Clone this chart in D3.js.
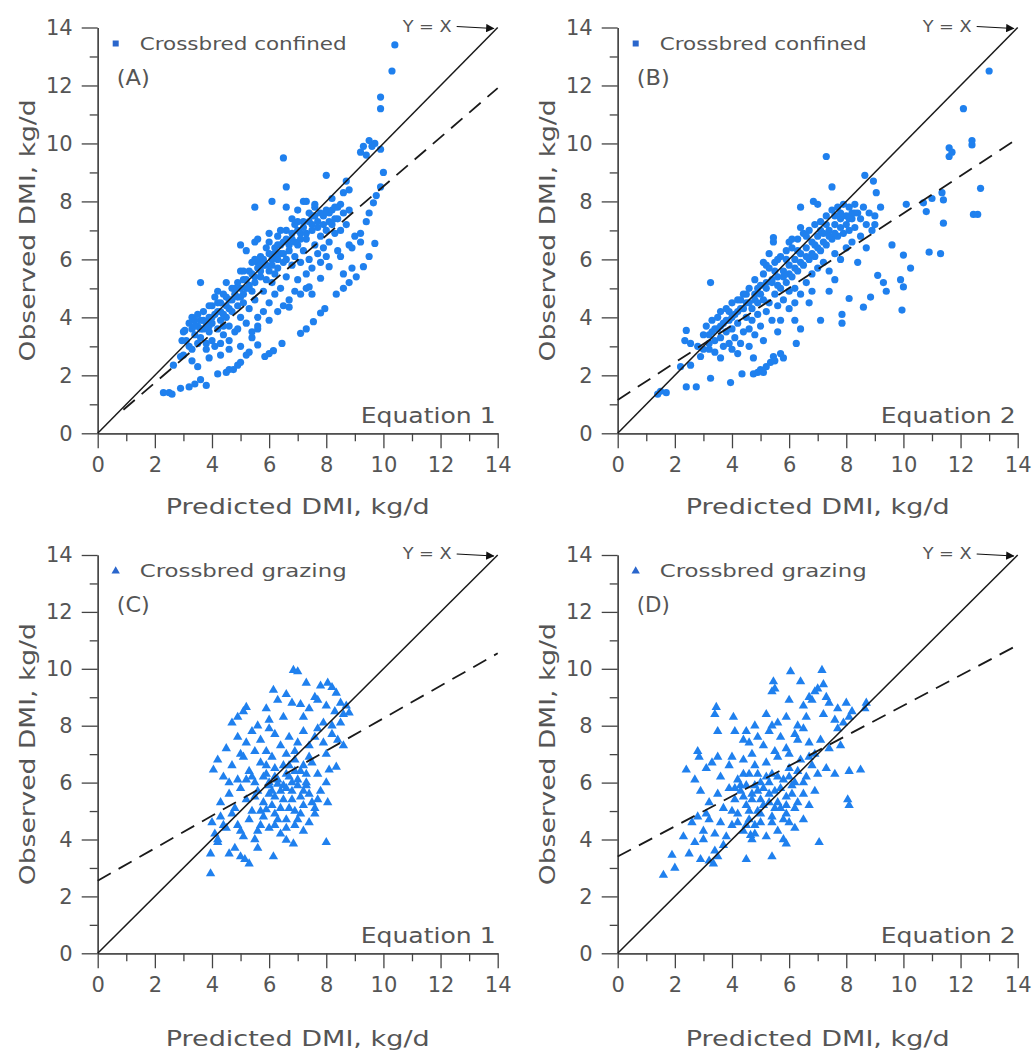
<!DOCTYPE html>
<html>
<head>
<meta charset="utf-8">
<title>Observed vs predicted DMI</title>
<script src="https://d3js.org/d3.v7.min.js"></script>
<style>
  body { margin: 0; background: #fff; }
  svg { font-family: "DejaVu Sans", "Open Sans", sans-serif; }
  .axis path, .axis line { stroke: #444; stroke-width: 1.3; }
  .axis text { fill: #555; font-size: 21px; font-family: "DejaVu Sans", sans-serif; }
  .title { fill: #555; font-size: 21px; }
  .note { fill: #555; }
</style>
</head>
<body>
<div id="chart"></div>
<script>
// ---- data ----
var majorTicks = [0, 2, 4, 6, 8, 10, 12, 14];
var minorTicks = [1, 3, 5, 7, 9, 11, 13];
var panelLetters = ["(A)", "(B)", "(C)", "(D)"];
var equationNames = ["Equation 1", "Equation 2", "Equation 1", "Equation 2"];
var groupNames = ["Crossbred confined", "Crossbred confined", "Crossbred grazing", "Crossbred grazing"];
var fitIntercepts = [0.05, 1.15, 2.55, 3.4];
var fitSlopes = [0.847, 0.644, 0.571, 0.531];
var fitStarts = [0.9, 0, 0, 0];

var pointsA = [
  [10.4,13.4],[10.3,12.5],[9.9,11.6],[9.9,11.2],[9.2,9.7],[9.3,9.9],[9.5,10.1],[9.6,9.9],[9.7,10.0],[9.9,9.8],[9.4,9.6],[10.0,9.0],[9.9,8.5],
  [6.5,9.5],[6.6,8.5],[8.0,8.9],[8.7,8.7],[8.6,8.3],[8.8,8.4],[5.5,7.8],[6.1,8.0],[6.6,7.8],[3.6,5.2],[5.0,6.5],[7.3,8.0],[7.6,7.9],
  [2.3,1.4],[2.5,1.4],[2.6,1.35],[2.9,1.55],[3.2,1.6],[3.4,1.7],[3.6,1.85],[3.8,1.65],[4.2,2.05],[4.5,2.1],[4.6,2.2],[4.75,2.2],[4.9,2.35],
  [5.0,2.45],[5.2,2.7],[5.3,2.8],[5.6,3.05],[5.85,2.65],[6.0,2.75],[6.15,2.85],[6.45,3.1],
  [2.65,2.35],[2.9,2.65],[2.95,3.2],[3.05,3.55],[3.3,2.5],[3.5,2.3],[3.9,2.6],[4.3,2.7],[4.6,2.9],[5.0,3.0],[5.4,3.3],[5.6,3.6],[6.0,3.9],
  [7.1,3.45],[7.3,3.6],[7.55,3.85],[7.8,4.15],[7.95,4.3],[8.35,4.8],[8.6,5.0],[8.8,5.2],[9.05,5.4],[9.3,5.75],[9.5,6.1],[9.7,6.55],
  [6.7,4.35],[7.1,4.8],[7.4,5.05],[7.8,5.35],[8.1,5.75],[8.5,6.1],[8.8,6.5],[9.2,6.9],[9.4,7.3],[9.5,7.6],[9.65,7.95],[9.75,8.2],
  [3.0,3.5],[3.1,3.2],[3.2,3.8],[3.3,3.6],[3.3,4.0],[3.4,3.4],[3.4,3.9],[3.5,3.7],[3.5,4.1],[3.6,3.3],[3.6,3.9],[3.7,3.6],[3.7,4.2],
  [3.8,3.8],[3.8,3.1],[3.9,4.0],[3.9,3.5],[4.0,4.4],[4.0,3.8],[4.0,3.2],[3.2,3.0],[3.5,3.1],[3.8,2.9],[4.1,3.0],[3.0,2.7],[3.3,2.9],
  [4.1,4.1],[4.1,4.7],[4.2,3.6],[4.2,4.5],[4.3,3.9],[4.3,4.2],[4.4,4.8],[4.4,3.4],[4.5,4.0],[4.5,4.4],[4.6,3.7],[4.6,4.6],[4.7,5.0],
  [4.7,4.2],[4.8,3.5],[4.8,4.8],[4.9,4.4],[4.9,5.2],[5.0,4.0],[5.0,4.7],[4.3,3.1],[4.6,3.2],[4.9,3.6],[4.4,3.7],[4.2,4.9],
  [5.1,5.3],[5.1,4.5],[5.2,3.8],[5.2,5.0],[5.3,5.6],[5.3,4.3],[5.4,4.9],[5.4,5.9],[5.5,5.2],[5.5,4.6],[5.6,5.7],[5.6,4.0],[5.7,5.4],
  [5.7,6.1],[5.8,4.9],[5.8,5.8],[5.9,5.3],[5.9,6.4],[6.0,5.6],[6.0,4.5],[5.5,6.6],[5.6,6.7],[5.2,6.3],[5.0,5.6],[5.3,5.1],[5.8,4.2],
  [5.4,3.5],[5.6,3.7],
  [6.1,6.0],[6.1,5.2],[6.2,6.4],[6.2,4.8],[6.3,5.7],[6.3,6.8],[6.4,6.2],[6.4,5.0],[6.5,5.9],[6.5,6.6],[6.6,5.4],[6.6,7.0],[6.7,6.3],
  [6.7,4.6],[6.8,6.7],[6.8,5.8],[6.9,6.1],[6.9,7.2],[7.0,6.5],[7.0,5.3],[6.4,7.0],[6.6,6.0],[6.2,5.5],[6.0,6.9],[6.9,4.9],[6.5,4.4],
  [6.8,7.4],[6.3,4.2],
  [7.1,6.9],[7.1,5.9],[7.2,7.3],[7.2,6.3],[7.3,5.5],[7.3,6.7],[7.4,7.6],[7.4,6.0],[7.5,7.0],[7.5,5.7],[7.6,6.5],[7.6,7.8],[7.7,6.2],
  [7.7,7.3],[7.8,6.8],[7.8,5.9],[7.9,7.5],[7.9,6.4],[8.0,7.0],[8.0,6.1],[7.2,8.0],[7.0,7.7],[7.5,4.8],[7.3,5.0],
  [8.1,7.6],[8.1,6.6],[8.2,7.2],[8.2,8.1],[8.3,6.9],[8.3,7.8],[8.4,7.4],[8.4,6.3],[8.5,7.9],[8.5,7.0],[8.6,7.6],[8.7,7.2],[8.8,7.7],
  [8.9,6.4],[9.0,6.8],[8.9,5.7],[9.2,6.6],[8.6,5.5],
  [3.4,3.7],[3.6,3.6],[3.7,3.9],[3.9,3.7],[4.0,4.0],[4.2,4.2],[4.3,4.5],[4.4,4.1],[4.5,4.7],[4.6,4.3],[4.7,4.6],[4.8,5.0],[4.9,4.7],
  [5.0,5.0],[5.1,4.8],[5.2,5.3],[5.3,5.0],[5.4,5.5],[5.5,5.4],[5.6,5.9],[5.7,5.6],[5.8,6.0],[5.9,5.8],[6.0,6.2],[6.1,5.8],[6.2,6.2],
  [6.3,6.0],[6.4,6.5],[6.5,6.2],[6.6,6.7],[6.7,6.5],[6.8,6.9],[6.9,6.6],[7.0,7.0],[7.1,6.7],[7.2,7.1],[7.3,6.9],[7.4,7.3],[7.5,7.2],
  [7.6,7.5],[7.7,7.1],[7.8,7.6],[7.9,7.2],[8.0,7.7],[8.1,7.3],[8.2,7.7],[8.3,7.4],[8.4,7.8],[6.0,6.6],[6.3,6.5],[5.5,6.0],[5.1,5.6],
  [4.5,5.2],[3.9,4.4],[7.0,7.3],[7.5,7.5]
];

var pointsB = [
  [13.0,12.5],[12.1,11.2],[12.4,10.1],[12.4,9.95],[11.6,9.85],[11.6,9.55],[11.7,9.7],[12.7,8.45],[12.45,7.55],[12.6,7.55],[11.4,8.05],
  [11.35,8.3],[10.7,7.95],[10.8,7.65],[11.0,8.1],[11.4,7.25],[10.9,6.25],[11.3,6.2],[10.0,6.15],[9.9,5.3],[10.0,5.05],[10.25,5.7],
  [9.95,4.25],[9.1,5.45],[9.3,5.2],[9.4,4.9],[8.85,4.7],[8.6,4.35],[8.1,4.65],[7.85,4.1],[7.85,3.8],[7.1,3.9],[7.3,9.55],[7.5,8.5],
  [6.4,7.8],[6.85,8.0],[8.65,8.9],[8.95,8.7],[9.05,8.3],[3.25,5.2],[5.45,6.75],[5.45,6.6],[9.2,7.8],[9.0,7.2],[10.1,7.9],[9.6,6.5],
  [1.5,1.45],[1.7,1.4],[1.4,1.35],[2.4,1.6],[2.75,1.6],[3.25,1.9],[3.95,1.75],[4.35,2.05],[4.75,2.05],[5.0,2.2],[5.2,2.3],[5.35,2.45],
  [5.45,2.65],[5.7,2.75],[5.8,2.6],[5.1,2.1],[4.9,2.1],[6.25,3.1],[6.4,3.6],[4.75,2.6],[4.2,2.75],[5.5,2.5],
  [2.4,3.55],[2.35,3.2],[2.55,3.1],[2.9,2.65],[2.55,2.35],[2.8,3.0],[2.2,2.3],[3.0,2.9],[3.6,2.6],[4.0,2.9],[4.6,3.0],[5.1,3.2],
  [5.6,3.5],[6.2,3.9],[6.0,4.3],[6.7,4.5],
  [3.0,3.4],[3.1,3.7],[3.2,3.1],[3.3,3.9],[3.3,3.5],[3.4,3.2],[3.5,4.0],[3.5,3.6],[3.6,3.3],[3.6,4.2],[3.7,3.8],[3.8,3.5],[3.8,4.3],
  [3.9,3.1],[3.9,3.9],[4.0,4.5],[4.0,3.6],[3.2,2.9],[3.4,2.8],[3.7,3.0],
  [4.1,4.1],[4.1,3.3],[4.2,4.6],[4.2,3.8],[4.3,4.3],[4.4,3.5],[4.4,4.8],[4.5,4.0],[4.5,4.5],[4.6,3.6],[4.6,5.0],[4.7,4.3],[4.7,3.9],
  [4.8,4.8],[4.8,5.3],[4.9,4.1],[4.9,4.5],[5.0,5.1],[5.0,3.7],[4.3,3.1],[4.8,3.4],
  [5.1,4.6],[5.1,5.5],[5.2,4.2],[5.2,5.0],[5.3,5.7],[5.3,4.5],[5.4,5.2],[5.4,3.9],[5.5,5.9],[5.5,4.8],[5.6,5.4],[5.6,4.4],[5.7,6.1],
  [5.7,5.0],[5.8,5.6],[5.8,4.6],[5.9,6.3],[5.9,5.2],[6.0,5.8],[6.0,4.9],[5.3,6.2],[5.7,3.9],[5.2,5.8],
  [6.1,6.4],[6.1,5.4],[6.2,6.0],[6.2,5.0],[6.3,6.7],[6.3,5.6],[6.4,6.2],[6.4,4.8],[6.5,6.9],[6.5,5.8],[6.6,6.4],[6.6,5.2],[6.7,7.0],
  [6.7,6.0],[6.8,6.6],[6.8,5.5],[6.9,7.2],[6.9,6.1],[7.0,6.8],[7.0,5.7],[6.4,7.1],[6.2,4.5],[6.8,4.9],[6.0,6.6],
  [7.1,7.3],[7.1,6.3],[7.2,6.9],[7.2,5.9],[7.3,7.5],[7.3,6.5],[7.4,7.0],[7.4,5.6],[7.5,7.7],[7.5,6.7],[7.6,7.2],[7.6,6.2],[7.7,7.8],
  [7.7,6.8],[7.8,7.4],[7.8,6.0],[7.9,7.9],[7.9,6.9],[8.0,7.5],[8.0,6.4],[7.4,4.9],[7.6,5.3],[7.0,7.9],
  [8.1,7.8],[8.1,7.0],[8.2,7.4],[8.2,6.6],[8.3,7.9],[8.3,7.1],[8.4,7.6],[8.5,6.8],[8.5,7.4],[8.6,7.8],[8.7,7.2],[8.8,7.6],[8.9,7.0],
  [8.7,6.4],[8.4,5.9],[9.0,7.5],
  [3.2,3.4],[3.4,3.6],[3.6,3.7],[3.8,3.9],[4.0,4.0],[4.2,4.2],[4.4,4.3],[4.6,4.5],[4.8,4.6],[5.0,4.8],[5.2,5.2],[5.4,5.3],[5.6,5.1],
  [5.8,5.4],[6.0,5.5],[6.2,5.7],[6.4,5.9],[6.6,6.1],[6.8,6.2],[7.0,6.4],[7.2,6.6],[7.4,6.8],[7.6,6.9],[7.8,7.1],[8.0,7.2],[8.2,7.6],
  [5.1,5.9],[5.6,6.0],[6.1,6.7],[6.6,6.8],[7.1,7.0],[7.6,7.5],[8.1,7.4],[8.3,7.6],[4.5,4.8],[3.9,4.2],[5.9,6.0],[6.3,6.3],[6.9,6.5],
  [7.3,7.2],[7.8,7.6],[4.3,4.6],[4.9,5.0],[5.5,5.6]
];

var pointsC = [
  [6.85,9.95],[7.0,9.9],[7.3,9.5],[6.15,9.25],[7.8,9.4],[8.05,9.5],[8.2,9.35],[8.35,9.15],[6.6,9.1],[7.6,9.0],
  [5.2,8.65],[4.9,8.3],[5.1,8.5],[5.9,8.6],[6.3,8.9],[6.8,8.8],[7.1,8.75],[7.4,8.6],[7.7,8.9],[8.0,8.7],[8.5,8.8],[8.7,8.7],
  [8.6,8.4],[8.3,8.5],[5.6,8.0],[6.0,8.2],[6.5,8.3],[7.2,8.3],[7.9,8.1],[8.2,8.0],[8.5,8.1],[8.8,8.45],[4.7,8.1],
  [4.5,7.2],[4.9,7.6],[5.2,7.4],[5.4,7.8],[5.7,7.5],[5.9,7.1],[6.2,7.7],[6.4,7.3],[6.7,7.6],[6.9,7.1],[7.2,7.8],[7.4,7.3],
  [7.6,7.6],[7.9,7.4],[8.2,7.7],[8.4,7.5],[8.6,7.3],[5.0,7.0],[6.0,7.9],[7.0,7.4],[5.5,7.1],[6.6,7.0],[8.0,7.0],[7.7,7.9],
  [4.05,6.45],[4.2,6.8],[4.4,6.2],[4.7,6.6],[4.9,6.1],[5.1,6.9],[5.3,6.4],[5.5,6.0],[5.7,6.7],[5.9,6.3],[6.1,6.9],[6.3,6.1],
  [6.5,6.6],[6.7,6.2],[6.9,6.8],[7.1,6.4],[7.3,6.0],[7.5,6.7],[7.7,6.3],[8.1,6.45],[8.35,6.55],[8.0,6.0],[6.0,6.0],[6.2,6.5],
  [6.8,6.0],[7.4,6.9],[5.2,6.1],[4.6,6.0],
  [4.3,5.3],[4.6,5.6],[4.8,5.1],[5.0,5.8],[5.2,5.4],[5.4,5.0],[5.6,5.7],[5.8,5.3],[6.0,5.9],[6.2,5.5],[6.4,5.1],[6.6,5.8],
  [6.8,5.4],[7.0,5.9],[7.2,5.2],[7.4,5.6],[7.6,5.1],[7.8,5.7],[8.05,5.3],[6.3,5.95],[6.9,5.0],[7.3,5.9],[5.9,5.05],[6.1,5.2],
  [6.5,5.4],[7.1,5.5],[5.5,5.5],[7.7,5.4],
  [4.0,4.6],[4.1,4.2],[4.3,4.8],[4.5,4.4],[4.7,4.9],[4.9,4.5],[5.1,4.1],[5.3,4.7],[5.6,4.3],[5.8,4.8],[6.0,4.4],[6.2,4.9],
  [6.4,4.2],[6.6,4.7],[6.9,4.5],[7.1,4.9],[7.4,4.6],[7.6,4.9],[6.6,3.98],[6.85,3.85],[7.2,4.3],[8.0,3.9],[5.5,4.0],[5.0,4.3],
  [4.2,4.0],[4.4,4.5],
  [3.95,2.8],[3.95,3.5],[4.6,3.5],[5.0,3.4],[5.15,3.3],[5.3,3.15],[6.15,3.4],[5.6,3.7],[4.8,3.7],[4.2,3.9],
  [5.8,6.2],[6.0,5.6],[6.2,6.2],[6.4,5.7],[6.6,6.3],[6.8,5.7],[7.0,6.1],[7.2,5.7],[6.1,5.7],[6.5,5.9],[6.9,6.4],[7.3,6.3],
  [5.7,5.0],[6.3,4.7],[6.7,5.1],[7.0,4.7],[5.9,6.6],[6.7,6.6],[7.5,5.3],[5.4,6.2],[6.2,4.5],[6.6,4.4],[7.2,6.6],[5.7,4.5]
];

var pointsD = [
  [6.05,9.9],[7.15,9.95],[7.2,9.45],[5.45,9.55],[5.5,9.3],[5.4,9.2],[6.4,9.55],[6.9,9.2],[7.0,9.3],[6.7,9.0],[7.3,9.0],
  [3.45,8.65],[3.4,8.4],[4.05,8.3],[3.5,7.8],[6.0,8.9],[6.5,8.7],[6.8,8.9],[7.4,8.8],[7.7,8.6],[8.0,8.8],[8.2,8.5],[8.65,8.6],
  [8.7,8.8],[5.2,8.4],[5.6,8.1],[5.9,8.3],[6.3,8.0],[6.6,8.3],[7.6,8.2],[7.9,8.1],[8.1,8.3],[4.8,8.0],[5.4,8.0],[7.2,8.4],
  [2.8,7.1],[2.85,6.9],[3.5,6.9],[4.1,7.8],[4.4,7.5],[4.6,7.4],[4.7,7.0],[4.9,7.6],[5.1,7.3],[5.3,7.8],[5.5,7.1],[5.7,7.6],
  [5.9,7.2],[6.2,7.7],[6.5,7.9],[6.7,7.4],[6.9,7.0],[7.1,7.5],[7.4,7.2],[7.7,7.9],[7.8,7.3],[4.5,7.8],[6.0,7.0],[6.3,7.5],
  [2.4,6.45],[2.7,6.1],[3.1,6.5],[3.3,6.7],[3.6,6.2],[3.9,6.6],[4.2,6.1],[4.4,6.8],[4.6,6.3],[4.8,6.6],[5.0,6.0],[5.2,6.7],
  [5.4,6.3],[5.6,6.9],[5.8,6.1],[6.0,6.5],[6.2,6.0],[6.4,6.8],[6.6,6.2],[6.8,6.6],[7.0,6.3],[7.3,6.5],[7.6,6.3],[8.1,6.4],
  [8.5,6.45],[4.0,6.9],[5.3,6.0],[6.7,6.9],
  [2.9,5.7],[3.2,5.3],[3.5,5.6],[3.7,5.1],[3.9,5.8],[4.1,5.4],[4.3,5.9],[4.5,5.2],[4.7,5.6],[4.9,5.0],[5.1,5.8],[5.3,5.3],
  [5.5,5.7],[5.7,5.1],[5.9,5.5],[6.1,5.9],[6.3,5.3],[6.5,5.6],[6.7,5.2],[6.9,5.7],[8.05,5.4],[8.1,5.2],[4.0,5.0],[4.8,5.9],
  [5.6,5.3],[6.2,5.1],[4.4,5.5],[5.0,5.4],
  [2.3,4.1],[2.6,4.6],[2.8,4.8],[3.0,4.3],[3.2,4.7],[3.4,4.2],[3.6,4.6],[3.8,4.1],[4.0,4.5],[4.2,4.9],[4.4,4.3],[4.6,4.7],
  [4.8,4.2],[5.0,4.6],[5.2,4.1],[5.4,4.8],[5.6,4.3],[5.8,4.0],[6.0,4.6],[6.2,4.4],[3.1,4.9],[4.7,4.0],[3.0,4.0],[4.5,4.5],
  [5.9,4.9],[6.5,4.7],[7.05,3.9],[5.9,3.85],[4.65,4.15],
  [1.6,2.75],[1.9,3.45],[2.0,3.0],[2.5,3.5],[2.9,3.3],[3.2,3.25],[3.35,3.15],[3.4,3.6],[3.7,3.8],[4.5,3.3],[5.4,3.4],[3.5,3.4],
  [2.7,3.9],
  [4.3,5.7],[4.5,5.9],[4.7,5.4],[4.9,5.7],[5.1,5.2],[5.3,5.6],[5.5,5.1],[5.7,5.8],[5.9,5.2],[6.1,5.6],[4.6,5.0],[5.0,4.9],
  [5.4,4.6],[5.8,4.7],[4.2,4.6],[4.8,4.5],[5.2,6.2],[5.6,6.2],[6.0,6.2],[4.4,6.3],[4.9,6.3],[6.3,6.4],[6.5,6.0],[4.1,5.8]
];

var pointSets = [pointsA, pointsB, pointsC, pointsD];
var markerShapes = ["circle", "circle", "triangle", "triangle"];

// ---- layout ----
var width = 1032, height = 1052;
var colX = [[97.7, 497.7], [617.7, 1017.7]];
var rowY = [[433.3, 27.5], [953.3, 555]];
var titleBase = [514, 1046];
var blue = "#1f80ee";

var svg = d3.select("#chart").append("svg")
  .attr("width", width)
  .attr("height", height);

svg.append("defs").append("marker")
  .attr("id", "arrow")
  .attr("viewBox", "0 0 10 10")
  .attr("refX", 9).attr("refY", 5)
  .attr("markerWidth", 7).attr("markerHeight", 7)
  .attr("orient", "auto")
  .append("path")
  .attr("d", "M0,0 L10,5 L0,10 z")
  .attr("fill", "#111");

// stretch a label to the width it has in the figure
function fit(sel, w) {
  return sel.attr("textLength", w).attr("lengthAdjust", "spacingAndGlyphs");
}

pointSets.forEach(function(points, i) {
  var col = i % 2, row = Math.floor(i / 2);
  var x = d3.scaleLinear().domain([0, 14]).range(colX[col]);
  var y = d3.scaleLinear().domain([0, 14]).range(rowY[row]);
  var g = svg.append("g").attr("class", "panel");

  // axes: major and minor ticks
  g.append("g").attr("class", "axis")
    .attr("transform", "translate(0," + y(0) + ")")
    .call(d3.axisBottom(x).tickValues(majorTicks).tickSize(15).tickSizeOuter(0).tickPadding(9));
  g.append("g").attr("class", "axis")
    .attr("transform", "translate(0," + y(0) + ")")
    .call(d3.axisBottom(x).tickValues(minorTicks).tickSize(8).tickFormat("").tickSizeOuter(0));
  g.append("g").attr("class", "axis")
    .attr("transform", "translate(" + x(0) + ",0)")
    .call(d3.axisLeft(y).tickValues(majorTicks).tickSize(16).tickSizeOuter(0).tickPadding(9));
  g.append("g").attr("class", "axis")
    .attr("transform", "translate(" + x(0) + ",0)")
    .call(d3.axisLeft(y).tickValues(minorTicks).tickSize(8).tickFormat("").tickSizeOuter(0));

  // axis titles
  fit(g.append("text").attr("class", "title")
    .attr("x", (colX[col][0] + colX[col][1]) / 2)
    .attr("y", titleBase[row])
    .attr("text-anchor", "middle")
    .text("Predicted DMI, kg/d"), 264);
  fit(g.append("text").attr("class", "title")
    .attr("transform", "translate(" + (x(0) - 63) + "," + ((rowY[row][0] + rowY[row][1]) / 2) + ") rotate(-90)")
    .attr("text-anchor", "middle")
    .text("Observed DMI, kg/d"), 262);

  // points
  if (markerShapes[i] === "circle") {
    g.append("g").selectAll("circle")
      .data(points).enter()
      .append("circle")
      .attr("cx", d => x(d[0]))
      .attr("cy", d => y(d[1]))
      .attr("r", 3.6)
      .attr("fill", blue);
  } else {
    var tri = d3.symbol().type(d3.symbolTriangle).size(38);
    g.append("g").selectAll("path")
      .data(points).enter()
      .append("path")
      .attr("d", tri)
      .attr("transform", d => "translate(" + x(d[0]) + "," + y(d[1]) + ")")
      .attr("fill", blue);
  }

  // Y = X line and fitted line
  g.append("line")
    .attr("x1", x(0)).attr("y1", y(0))
    .attr("x2", x(14)).attr("y2", y(14))
    .attr("stroke", "#1a1a1a").attr("stroke-width", 1.5);
  g.append("line")
    .attr("x1", x(fitStarts[i])).attr("y1", y(fitIntercepts[i] + fitSlopes[i] * fitStarts[i]))
    .attr("x2", x(14)).attr("y2", y(fitIntercepts[i] + fitSlopes[i] * 14))
    .attr("stroke", "#1a1a1a").attr("stroke-width", 1.8)
    .attr("stroke-dasharray", "15,9");

  // Y = X label with arrow
  fit(g.append("text").attr("class", "note")
    .attr("x", x(14) - 95).attr("y", y(14) + 4)
    .style("font-size", "15px")
    .text("Y = X"), 49);
  g.append("line")
    .attr("x1", x(14) - 41).attr("y1", y(14) - 1)
    .attr("x2", x(14) - 4).attr("y2", y(14) + 1)
    .attr("stroke", "#111").attr("stroke-width", 1.2)
    .attr("marker-end", "url(#arrow)");

  // legend
  var lx = x(0) + 18, ly = y(14) + 16;
  if (markerShapes[i] === "circle") {
    g.append("rect").attr("x", lx - 3).attr("y", ly - 3).attr("width", 6).attr("height", 6).attr("fill", "#2a66cc");
  } else {
    g.append("path").attr("d", d3.symbol().type(d3.symbolTriangle).size(30))
      .attr("transform", "translate(" + lx + "," + ly + ")").attr("fill", "#2a66cc");
  }
  fit(g.append("text").attr("class", "note")
    .attr("x", lx + 24).attr("y", ly + 6)
    .style("font-size", "17px")
    .text(groupNames[i]), 207);

  // panel letter and equation name
  fit(g.append("text").attr("class", "note")
    .attr("x", x(0) + 19).attr("y", y(14) + 57)
    .style("font-size", "21px")
    .text(panelLetters[i]), 33);
  fit(g.append("text").attr("class", "note")
    .attr("x", x(14) - 137).attr("y", y(0) - 10)
    .style("font-size", "21px")
    .text(equationNames[i]), 135);
});
</script>
</body>
</html>
